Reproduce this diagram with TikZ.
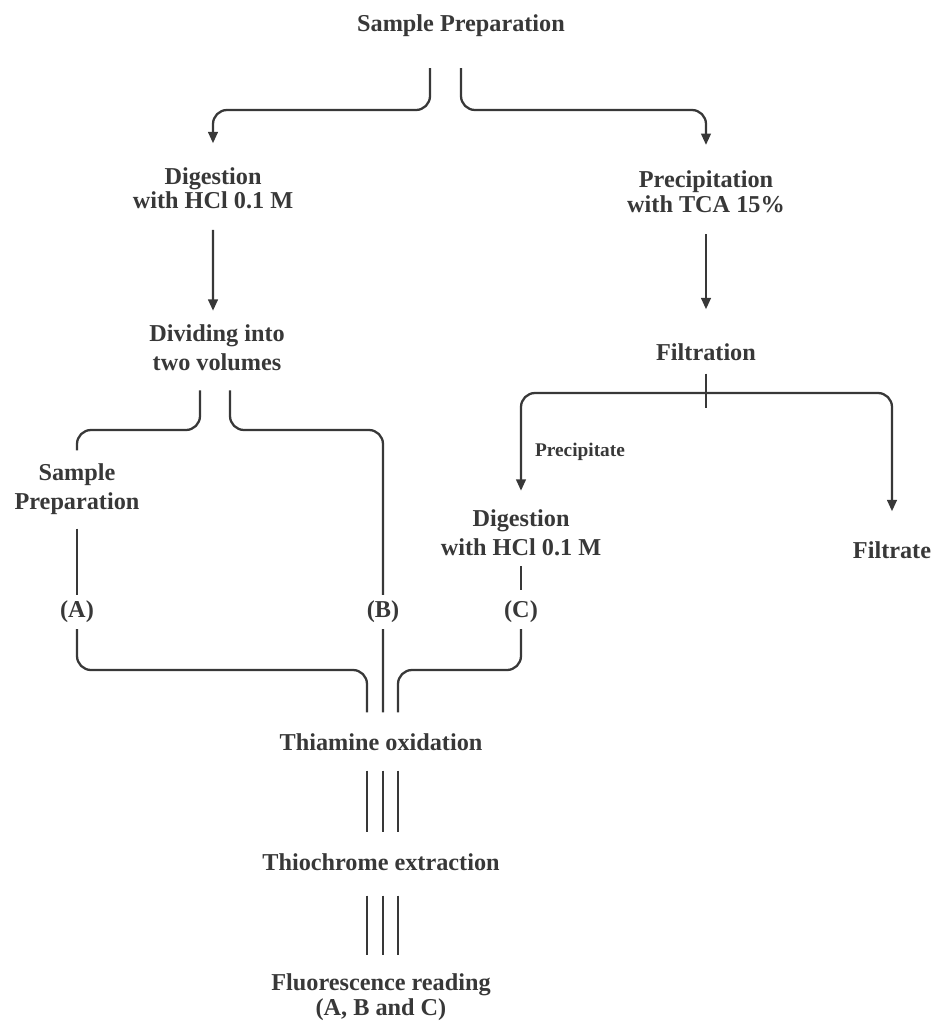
\documentclass[tikz,border=0pt]{standalone}
\usepackage{fontspec}
\setmainfont{Liberation Serif}
\usetikzlibrary{arrows.meta}
\definecolor{ink}{gray}{0.22}
\tikzset{
  box/.style={font=\bfseries\fontsize{13.8}{14}\selectfont,align=center,text=ink},
  wide/.style={font=\bfseries\fontsize{13.8}{16.5}\selectfont},
  line/.style={draw=ink,line width=1.3pt,rounded corners=8pt},
}
\begin{document}
\begin{tikzpicture}[x=0.02cm,y=-0.02cm,>={Triangle[length=6.5pt,width=5.5pt]}]
    \useasboundingbox (0,0) rectangle (934,1022);
    % left column
    \path (461,26) node[box](prep){Sample Preparation};
    \path (213,188) node[box,font=\bfseries\fontsize{13.8}{12.5}\selectfont](digA){Digestion\\with HCl 0.1 M};
    \path (217,348) node[box,wide](divide){Dividing into\\two volumes};
    \path (77,489) node[box,wide](prepA){Sample\\Preparation};
    % right column
    \path (706,192) node[box](precip){Precipitation\\with TCA 15\%};
    \path (706,352) node[box](filt){Filtration};
    \path (580,452) node[box,font=\bfseries\fontsize{11}{12}\selectfont](prc){Precipitate};
    \path (521,533) node[box,wide](digC){Digestion\\with HCl 0.1 M};
    \path (892,550) node[box](filtrate){Filtrate};
    % the three fractions
    \path (77,612) node[box](A){(A)} (383,612) node[box](B){(B)} (521,612) node[box](C){(C)};
    \path (381,742) node[box](oxid){Thiamine oxidation};
    \path (381,862) node[box](extr){Thiochrome extraction};
    \path (381,997) node[box](fluor){Fluorescence reading\\(A, B and C)};

    \draw[line,->] ([xshift=-0.62cm,yshift=-0.5cm]prep.south) |- (213,110) -- ([yshift=0.36cm]digA.north);
    \draw[line,->] ([yshift=-0.5cm]prep.south) |- (706,110) -- ([yshift=0.4cm]precip.north);
    \draw[line,->] ([yshift=-0.3cm]digA.south) -- ([xshift=-0.08cm,yshift=0.16cm]divide.north);
    \draw[line,->] ([yshift=-0.3cm]precip.south) -- ([yshift=0.56cm]filt.north);

    \draw[line] ([xshift=-0.34cm,yshift=-0.26cm]divide.south) |- (77,430) -- ([yshift=0.14cm]prepA.north);
    \draw[line] ([xshift=0.26cm,yshift=-0.26cm]divide.south) |- (383,430) -- (B.north);
    \draw[line] ([yshift=-0.16cm]prepA.south) -- (A.north);
    \draw[line] ([yshift=-0.08cm]digC.south) -- ([yshift=0.1cm]C.north);

    \draw[line] ([yshift=-0.14cm]filt.south) -- ++(0,34);
    \coordinate (fork) at (706,393);
    \draw[line,->] (fork) -| ([yshift=0.26cm]digC.north);
    \draw[line,->] (fork) -| ([yshift=0.48cm]filtrate.north);

    \draw[line] (A.south) |- (367,670) -- ([xshift=-0.28cm,yshift=0.3cm]oxid.north);
    \draw[line] (B.south) -- ([xshift=0.04cm,yshift=0.3cm]oxid.north);
    \draw[line] (C.south) |- (398,670) -- ([xshift=0.34cm,yshift=0.3cm]oxid.north);

    \foreach \dx in {-0.28,0.04,0.34} {
      \draw[line] ([xshift=\dx cm,yshift=-0.28cm]oxid.south) -- ([xshift=\dx cm,yshift=0.3cm]extr.north);
      \draw[line] ([xshift=\dx cm,yshift=-0.38cm]extr.south) -- ([xshift=\dx cm,yshift=0.26cm]fluor.north);
    }
\end{tikzpicture}
\end{document}
